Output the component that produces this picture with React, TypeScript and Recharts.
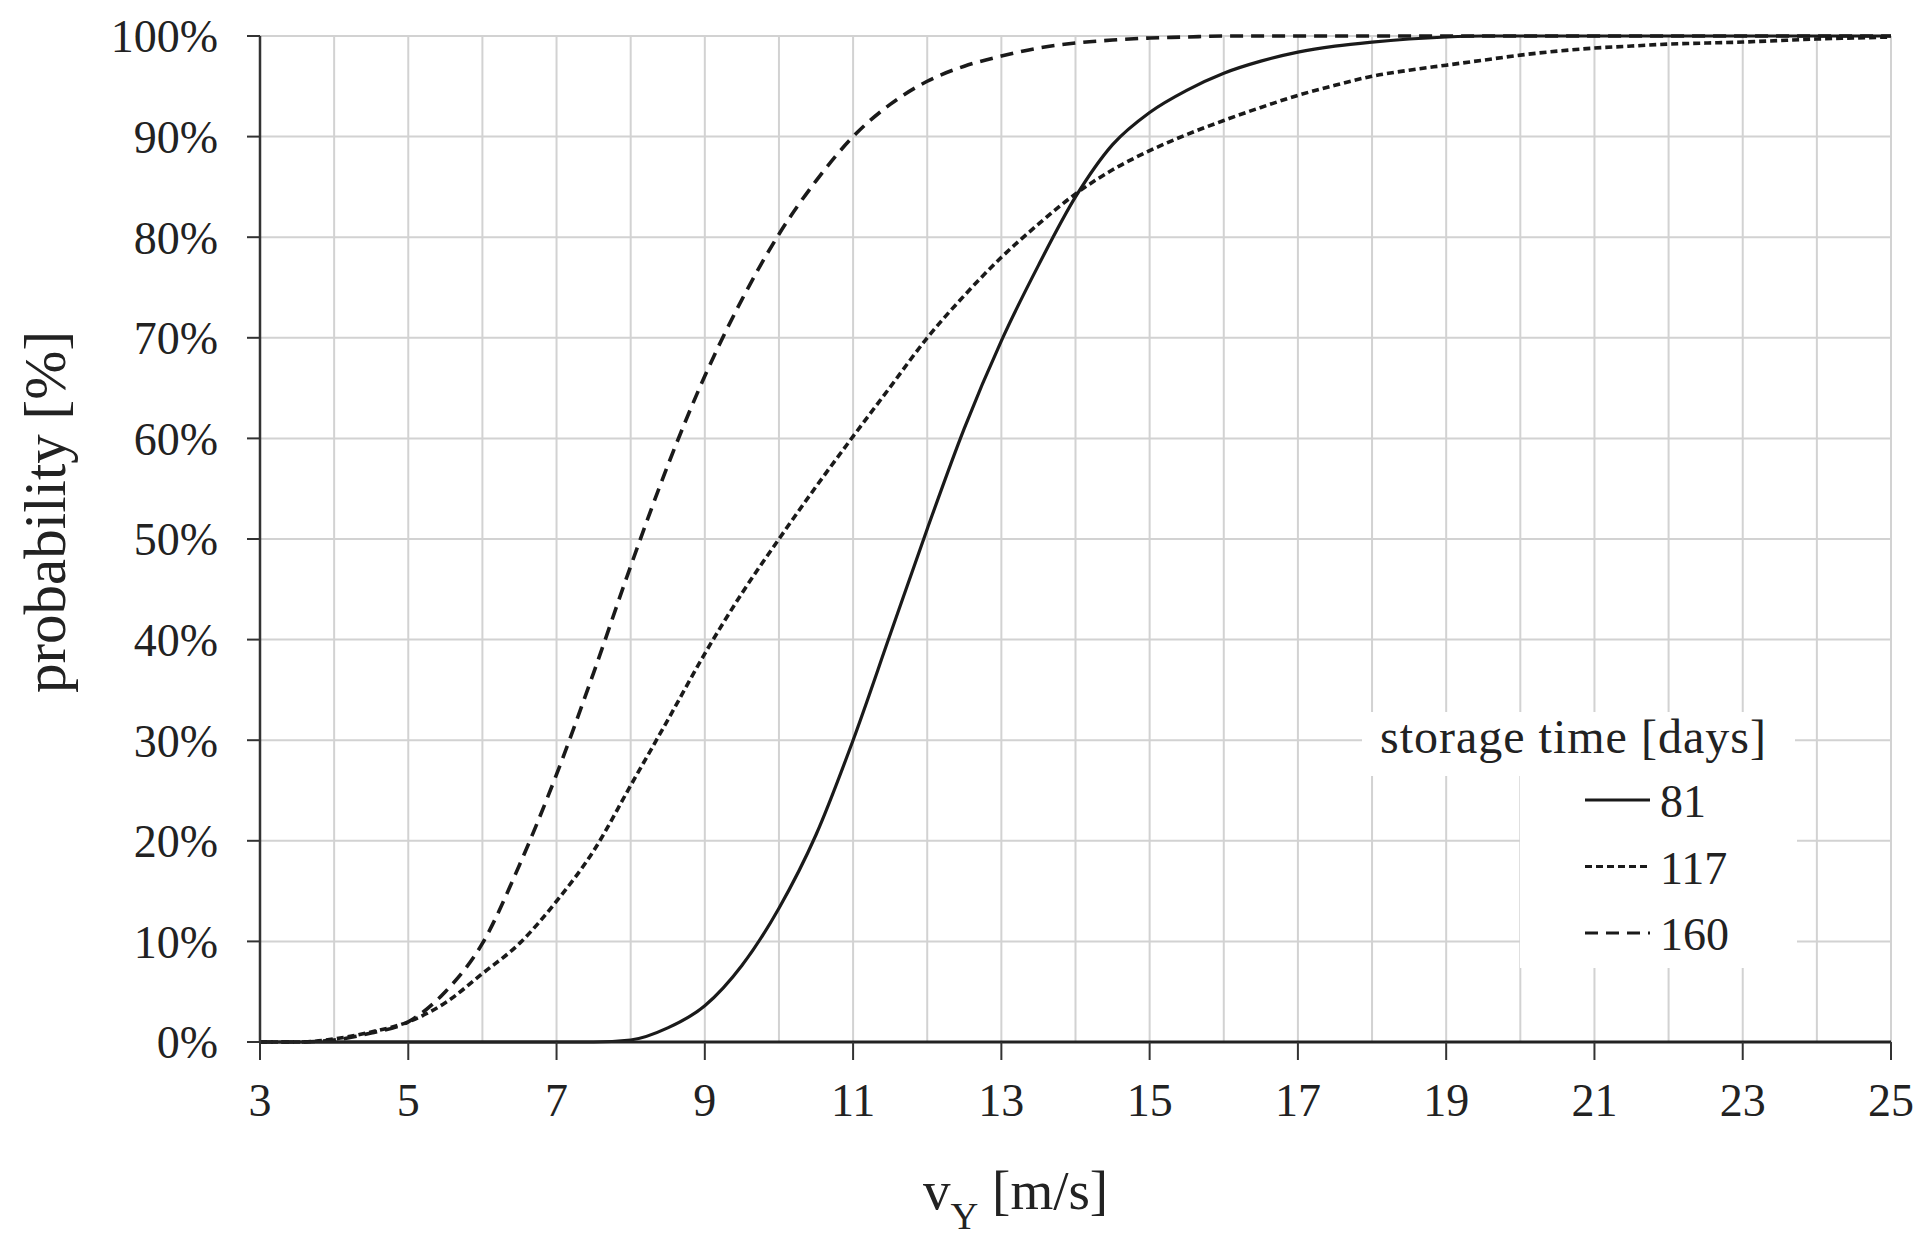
import React from "react"
import { LineChart, Line, XAxis, YAxis, CartesianGrid, ReferenceLine, Legend } from "recharts"

// vY [m/s]
const speeds = [
 3, 3.5, 4, 4.5, 5, 5.5, 6, 6.5, 7, 7.5, 8, 8.5, 9, 9.5, 10, 10.5, 11, 11.5, 12, 12.5, 13, 13.5,
 14, 14.5, 15, 15.5, 16, 16.5, 17, 17.5, 18, 18.5, 19, 19.5, 20, 20.5, 21, 21.5, 22, 22.5, 23, 23.5,
 24, 24.5, 25
]

// cumulative probability [%] per storage time
const days81 = [
 0, 0, 0, 0, 0, 0, 0, 0, 0, 0, 0.2, 1.4, 3.6, 7.6, 13.3, 20.6, 30, 40.5, 51, 61, 69.7, 77.2,
 84, 89.2, 92.4, 94.6, 96.3, 97.5, 98.4, 99, 99.4, 99.7, 99.9, 100, 100, 100, 100, 100, 100, 100, 100, 100,
 100, 100, 100
]
const days117 = [
 0, 0, 0.3, 1.0, 2.0, 3.9, 6.8, 9.8, 14, 19, 25.5, 32, 38.6, 44.6, 50, 55.2, 60.2, 65.1, 70, 74.2, 78, 81.3,
 84.3, 86.7, 88.6, 90.2, 91.6, 92.9, 94.1, 95.1, 96, 96.6, 97.1, 97.6, 98.1, 98.5, 98.8, 99, 99.2, 99.3, 99.4, 99.55,
 99.7, 99.8, 99.9
]
const days160 = [
 0, 0, 0.2, 0.9, 2.0, 5.0, 9.8, 17.6, 26.6, 36.7, 47.3, 57.3, 66.2, 73.8, 80.3, 85.6, 90, 93.2, 95.5, 97, 98, 98.8,
 99.3, 99.6, 99.8, 99.9, 100, 100, 100, 100, 100, 100, 100, 100, 100, 100, 100, 100, 100, 100, 100, 100,
 100, 100, 100
]

const xTicks = [3, 5, 7, 9, 11, 13, 15, 17, 19, 21, 23, 25]
const xGrid = [4, 5, 6, 7, 8, 9, 10, 11, 12, 13, 14, 15, 16, 17, 18, 19, 20, 21, 22, 23, 24, 25]
const yTicks = [0, 10, 20, 30, 40, 50, 60, 70, 80, 90, 100]

const seriesNames = ["81", "117", "160"]
const seriesDash = ["", "7 4", "13 8"]

const data = speeds.map((v, i) => ({
 v,
 d81: days81[i],
 d117: days117[i],
 d160: days160[i]
}))

const serif = "'Liberation Serif', 'Times New Roman', serif"
const ink = "#1a1a1a"

function StorageLegend(){

 return(
  <svg width={440} height={268} style={{ display: "block", overflow: "visible" }}>
   <rect x={0} y={12} width={433} height={64} fill="#fff"/>
   <rect x={158} y={72} width={277} height={196} fill="#fff"/>
   <text x={18} y={53} fontFamily={serif} fontSize={48} letterSpacing={1} fill="#222">
    storage time [days]
   </text>
   {seriesNames.map((name, i) => (
    <g key={name}>
     <line
      x1={223} x2={288}
      y1={100 + i * 66.5} y2={100 + i * 66.5}
      stroke={ink} strokeWidth={3.2}
      strokeDasharray={seriesDash[i] || undefined}
     />
     <text x={298} y={117 + i * 66.5} fontFamily={serif} fontSize={46} fill="#222">
      {name}
     </text>
    </g>
   ))}
  </svg>
 )
}

export default function App(){

 return(

  <div style={{ position: "absolute", left: 0, top: 0, width: 1925, height: 1235, background: "#fff" }}>

   <LineChart
    width={1925}
    height={1235}
    data={data}
    margin={{ top: 36, right: 34, bottom: 93, left: 100 }}
   >

    <CartesianGrid vertical={false} stroke="#d2d2d2" strokeWidth={2}/>

    {xGrid.map(g => (
     <ReferenceLine key={g} x={g} stroke="#d2d2d2" strokeWidth={2}/>
    ))}

    <XAxis
     dataKey="v"
     type="number"
     domain={[3, 25]}
     ticks={xTicks}
     height={100}
     tickSize={18}
     tickMargin={23}
     axisLine={{ stroke: "#222", strokeWidth: 3 }}
     tickLine={{ stroke: "#333", strokeWidth: 2 }}
     tick={{ fontFamily: serif, fontSize: 46, fill: "#222" }}
    />

    <YAxis
     type="number"
     domain={[0, 100]}
     ticks={yTicks}
     width={160}
     tickSize={13}
     tickMargin={29}
     tickFormatter={t => t + "%"}
     axisLine={{ stroke: "#333", strokeWidth: 2.5 }}
     tickLine={{ stroke: "#333", strokeWidth: 2 }}
     tick={{ fontFamily: serif, fontSize: 46, fill: "#222" }}
    />

    <Line dataKey="d81" name="81" type="monotone" stroke={ink} strokeWidth={3.2} dot={false} isAnimationActive={false}/>
    <Line dataKey="d117" name="117" type="monotone" stroke={ink} strokeWidth={3.6} strokeDasharray="7 4" dot={false} isAnimationActive={false}/>
    <Line dataKey="d160" name="160" type="monotone" stroke={ink} strokeWidth={3.6} strokeDasharray="13 8" dot={false} isAnimationActive={false}/>

    <Legend
     layout="horizontal"
     verticalAlign="middle"
     align="center"
     content={() => <StorageLegend/>}
     wrapperStyle={{ left: 1362, top: 700, width: 440, height: 268 }}
    />

   </LineChart>

   <div
    style={{
     position: "absolute", left: 45, top: 512,
     transform: "translate(-50%, -50%) rotate(-90deg)",
     fontFamily: serif, fontSize: 59, lineHeight: 1, whiteSpace: "nowrap", color: "#222"
    }}
   >
    probability [%]
   </div>

   <div
    style={{
     position: "absolute", left: 923, top: 1163,
     fontFamily: serif, fontSize: 55, lineHeight: 1, whiteSpace: "nowrap", color: "#222"
    }}
   >
    v<span style={{ fontSize: "0.7em", position: "relative", top: 20 }}>Y</span> [m/s]
   </div>

  </div>

 )
}
